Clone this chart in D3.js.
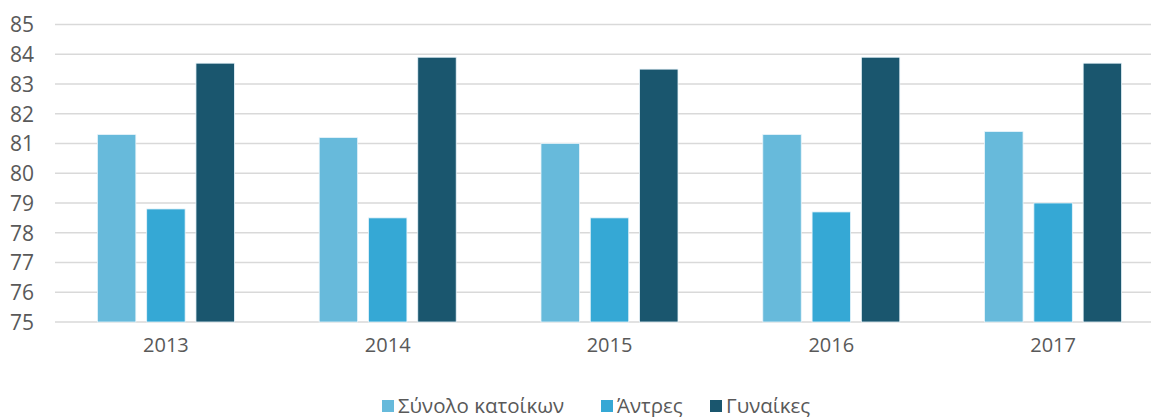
<!DOCTYPE html>
<html>
<head>
<meta charset="utf-8">
<script src="https://d3js.org/d3.v7.min.js"></script>
<style>
    body { margin: 0; padding: 0; background: #fff; }
    svg { display: block; font-family: 'Open Sans', sans-serif; }
</style>
</head>
<body>
<div id="chart"></div>
<script>
    // data
    var years = ["2013", "2014", "2015", "2016", "2017"];
    var seriesNames = ["Σύνολο κατοίκων", "Άντρες", "Γυναίκες"];
    var total = [81.3, 81.2, 81.0, 81.3, 81.4];
    var men = [78.8, 78.5, 78.5, 78.7, 79.0];
    var women = [83.7, 83.9, 83.5, 83.9, 83.7];
    var yTicks = [75, 76, 77, 78, 79, 80, 81, 82, 83, 84, 85];
    var colors = ["#67badb", "#35a8d5", "#1a566e"];

    var values = [total, men, women];
    var width = 1151, height = 417;
    var groupWidth = 137;

    var svg = d3.select("#chart").append("svg")
        .attr("width", width)
        .attr("height", height);

    // the plot runs past the right edge, like the original
    var x = d3.scaleBand()
        .domain(years)
        .range([55, 1164]);

    var inner = d3.scaleBand()
        .domain(d3.range(seriesNames.length))
        .range([0, groupWidth])
        .paddingInner(0.22);

    var y = d3.scaleLinear()
        .domain([75, 85])
        .range([322, 24.5]);

    //gridlines
    svg.append("g")
        .selectAll("line")
        .data(yTicks)
        .join("line")
        .attr("x1", 55)
        .attr("x2", width)
        .attr("y1", function (d) { return y(d); })
        .attr("y2", function (d) { return y(d); })
        .attr("stroke", "#d9d9d9")
        .attr("stroke-width", 1.3);

    //y axis labels
    var yAxis = d3.axisLeft(y).tickValues(yTicks).tickSize(0).tickPadding(0);
    var gy = svg.append("g")
        .attr("transform", "translate(34,0)")
        .call(yAxis);
    gy.select(".domain").remove();
    gy.selectAll("text")
        .attr("font-family", "'Open Sans', sans-serif")
        .attr("font-size", 21)
        .attr("fill", "#595959")
        .attr("dy", "0.35em");

    //x axis labels
    var xAxis = d3.axisBottom(x).tickSize(0).tickPadding(0);
    var gx = svg.append("g")
        .attr("transform", "translate(0,338)")
        .call(xAxis);
    gx.select(".domain").remove();
    gx.selectAll("text")
        .attr("font-family", "'Open Sans', sans-serif")
        .attr("font-size", 20)
        .attr("fill", "#595959")
        .attr("dy", "0.71em");

    //bars
    var groups = svg.append("g")
        .selectAll("g")
        .data(years)
        .join("g")
        .attr("transform", function (d) {
            return "translate(" + (x(d) + x.bandwidth() / 2 - groupWidth / 2) + ",0)";
        });

    groups.selectAll("rect")
        .data(function (d, i) {
            return values.map(function (s, k) { return { k: k, v: s[i] }; });
        })
        .join("rect")
        .attr("x", function (d) { return inner(d.k); })
        .attr("width", inner.bandwidth())
        .attr("y", function (d) { return y(d.v); })
        .attr("height", function (d) { return y(75) - y(d.v); })
        .attr("fill", function (d) { return colors[d.k]; })
        .attr("stroke", "#e8f4fa")
        .attr("stroke-width", 0.8);

    //legend
    var legendX = [382, 601, 710];
    var legend = svg.append("g")
        .selectAll("g")
        .data(seriesNames)
        .join("g")
        .attr("transform", function (d, i) { return "translate(" + legendX[i] + ",400)"; });

    legend.append("rect")
        .attr("width", 12)
        .attr("height", 12)
        .attr("fill", function (d, i) { return colors[i]; });

    legend.append("text")
        .attr("x", 16)
        .attr("y", 12.5)
        .attr("font-size", 20.5)
        .attr("fill", "#595959")
        .text(function (d) { return d; });
</script>
</body>
</html>
